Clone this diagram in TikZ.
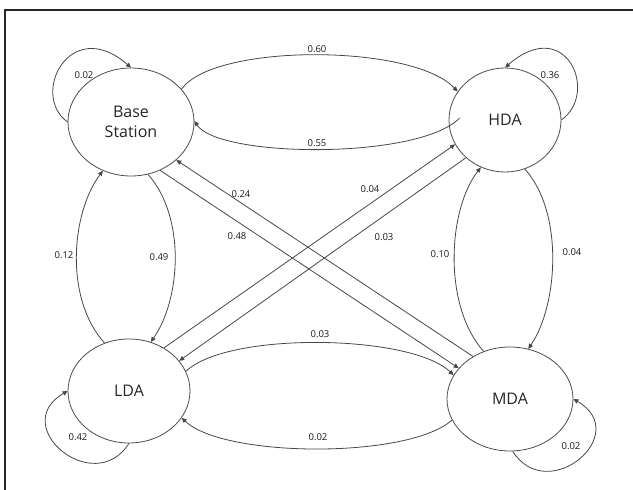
\documentclass[tikz,border=0pt]{standalone}
\usepackage{fontspec}
\setmainfont{Open Sans}
\usetikzlibrary{shapes.geometric,arrows.meta}
\begin{document}
\begin{tikzpicture}[x=1pt,y=-1pt,
  state/.style={draw=black!70,line width=0.8pt,ellipse,inner sep=0pt,align=center,font=\fontsize{16}{19.5}\selectfont,text=black!85},
  edge/.style={draw=black!72,line width=0.8pt,-{Triangle[length=5pt,width=4.5pt]}},
  lbl/.style={font=\fontsize{9.5}{11}\selectfont,text=black!90,inner sep=0pt}]
\useasboundingbox (0,0) rectangle (633,490);
\draw[line width=1.4pt,black!85] (5,490) -- (5,10) -- (633,10);

\node[state,minimum width=126pt,minimum height=108pt] (bs) at (131,122) {Base\\Station};
\node[state,minimum width=112pt,minimum height=104pt] (hda) at (505,120) {HDA};
\node[state,minimum width=122pt,minimum height=104pt] (lda) at (129,391) {LDA};
\node[state,minimum width=126pt,minimum height=104pt] (mda) at (510,399) {MDA};

% top pair
\draw[edge] (bs.33) .. controls +(32,-46) and +(-45,-48) .. (hda.149);
\draw[edge] ([xshift=11pt]hda.178) .. controls +(-41,42) and +(24,37) .. (bs.1);
% bottom pair
\draw[edge] (lda.19) .. controls +(41,-40) and +(-43,-41) .. (mda.157);
\draw[edge] (mda.-160) .. controls +(-44,39) and +(42,40) .. (lda.-27);
% left pair
\draw[edge] (bs.-72) .. controls +(38,43) and +(30,-43) .. (lda.66);
\draw[edge] (lda.117) .. controls +(-40,-44) and +(-32,43) .. (bs.-120);
% right pair
\draw[edge] (hda.-68) .. controls +(39,43) and +(30,-44) .. (mda.70);
\draw[edge] (mda.119) .. controls +(-41,-46) and +(-33,42) .. (hda.-117);
% diagonals
\draw[edge] (bs.-59) -- (mda.149);
\draw[edge] (mda.131) -- (bs.-40);
\draw[edge] (lda.51) -- (hda.-154);
\draw[edge] (hda.-136) -- (lda.31);
% self loops
\draw[edge] (bs.180) .. controls +(-38,-27) and +(-61,-53) .. (bs.90);
\draw[edge] (hda.0) .. controls +(38,-27) and +(61,-53) .. (hda.90);
\draw[edge] (lda.-90) .. controls +(-35,55) and +(-60,35) .. (lda.180);
\draw[edge] (mda.-87) .. controls +(35,55) and +(60,35) .. (mda.0);

% labels
\node[lbl] (l1) at (317,49) {0.60};
\node[lbl] (l2) at (317,143) {0.55};
\node[lbl] (l3) at (84,75) {0.02};
\node[lbl] (l4) at (550,75) {0.36};
\node[lbl] (l5) at (78,437) {0.42};
\node[lbl] (l6) at (571,446) {0.02};
\node[lbl] (l7) at (159,257) {0.49};
\node[lbl] (l8) at (64,255) {0.12};
\node[lbl] (l9) at (572,252) {0.04};
\node[lbl] (l10) at (440,254) {0.10};
\node[lbl] (l11) at (320,334) {0.03};
\node[lbl] (l12) at (318,437) {0.02};
\node[lbl] (l13) at (237,236) {0.48};
\node[lbl] (l14) at (241,194) {0.24};
\node[lbl] (l15) at (370,189) {0.04};
\node[lbl] (l16) at (384,237) {0.03};
\end{tikzpicture}
\end{document}
